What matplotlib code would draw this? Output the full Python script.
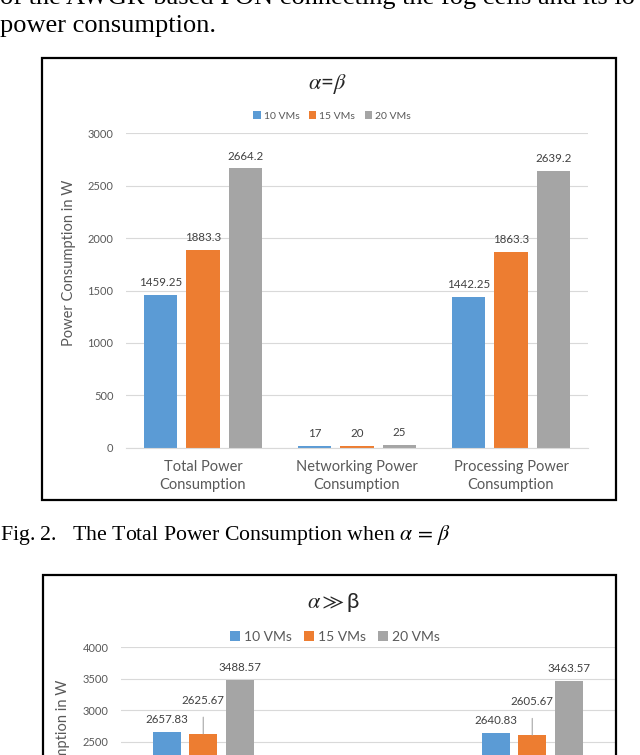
import numpy as np
import matplotlib.pyplot as plt
from matplotlib.patches import Rectangle

plt.rcParams['font.family'] = ['Lato', 'DejaVu Sans']
plt.rcParams['mathtext.fontset'] = 'stix'

# data
categories = ['Total Power\nConsumption', 'Networking Power\nConsumption',
              'Processing Power\nConsumption']
series = ['10 VMs', '15 VMs', '20 VMs']
colors = ['#5B9BD5', '#ED7D31', '#A5A5A5']

# alpha = beta
eq_10 = [1459.25, 17, 1442.25]
eq_15 = [1883.3, 20, 1863.3]
eq_20 = [2664.2, 25, 2639.2]
eq_labels = [['1459.25', '17', '1442.25'],
             ['1883.3', '20', '1863.3'],
             ['2664.2', '25', '2639.2']]

# alpha >> beta
gg_10 = [2657.83, 17, 2640.83]
gg_15 = [2625.67, 20, 2605.67]
gg_20 = [3488.57, 25, 3463.57]

W, H = 640, 755
fig = plt.figure(figsize=(W / 100, H / 100), dpi=100)


def fx(x):
    return x / W


def fy(y):
    return 1 - y / H


def px_box(x0, y0, x1, y1):
    return [fx(x0), fy(y1), (x1 - x0) / W, (y1 - y0) / H]


def style_axes(ax, ymax, step):
    ax.set_xlim(-0.5, 2.5)
    ax.set_ylim(0, ymax)
    ax.set_yticks(np.arange(0, ymax + 1, step))
    ax.yaxis.grid(True, color='#D9D9D9', lw=0.8)
    ax.set_axisbelow(True)
    for s in ['top', 'right', 'left']:
        ax.spines[s].set_visible(False)
    ax.spines['bottom'].set_color('#D9D9D9')
    ax.tick_params(length=0, labelsize=8, labelcolor='#595959', pad=9)
    ax.set_xticks(np.arange(3))
    ax.set_xticklabels(categories, fontsize=10.5, color='#595959', linespacing=1.3)
    ax.tick_params(axis='x', pad=9)


# page text
serif = 'Liberation Serif'
fig.text(0, fy(4), 'of the AWGR-based PON connecting the fog cells and its lo',
         family=serif, fontsize=19, va='baseline')
fig.text(0, fy(32), 'power consumption.', family=serif, fontsize=19, va='baseline')
fig.text(0, fy(540), r'Fig. 2.   The Total Power Consumption when $\alpha\,=\,\beta$',
         family=serif, fontsize=15.7, va='baseline')

# frames
fig.add_artist(Rectangle((fx(42), fy(500)), (616 - 42) / W, (500 - 58) / H,
                         transform=fig.transFigure, fill=False, ec='black', lw=1.6))
fig.add_artist(Rectangle((fx(43), fy(900)), (616 - 43) / W, (900 - 575) / H,
                         transform=fig.transFigure, fill=False, ec='black', lw=1.6))

# chart 1: alpha = beta
ax1 = fig.add_axes(px_box(126, 133.3, 588, 447.7))
style_axes(ax1, 3000, 500)
x = np.arange(3)
bw, off = 0.22, 0.276
for i, vals in enumerate([eq_10, eq_15, eq_20]):
    bars = ax1.bar(x + (i - 1) * off, vals, bw, color=colors[i], label=series[i])
    ax1.bar_label(bars, labels=eq_labels[i], padding=5, fontsize=8.3, color='#404040')
ax1.legend(loc='center', bbox_to_anchor=(fx(332), fy(116)), bbox_transform=fig.transFigure,
           ncol=3, frameon=False, fontsize=7.5, handlelength=0.7, handleheight=0.7,
           handletextpad=0.3, columnspacing=0.9, labelcolor='#595959')
fig.text(fx(327), fy(84), r'$\alpha$=$\beta$', fontsize=16, ha='center', va='center',
         color='#262626')
fig.text(fx(69), fy(263), 'Power Consumption in W', rotation=90, ha='center',
         va='center', fontsize=10.5, color='#595959')

# chart 2: alpha >> beta
ax2 = fig.add_axes(px_box(121, 647.3, 614.5, 899.3))
style_axes(ax2, 4000, 500)
bw2, off2 = 0.17, 0.222
for i, vals in enumerate([gg_10, gg_15, gg_20]):
    xs = x + (i - 1) * off2
    ax2.bar(xs, vals, bw2, color=colors[i], label=series[i])
    for xv, v in zip(xs, vals):
        lab = f'{v:.2f}' if v > 100 else f'{v:g}'
        if i == 1:
            ax2.annotate(lab, (xv, v), xytext=(0, 24), textcoords='offset points',
                         ha='center', va='center', fontsize=8.3, color='#404040',
                         arrowprops=dict(arrowstyle='-', color='#A6A6A6', lw=0.8,
                                         shrinkA=6, shrinkB=0))
        else:
            ax2.annotate(lab, (xv, v), xytext=(0, 9), textcoords='offset points',
                         ha='center', va='center', fontsize=8.3, color='#404040')
ax2.legend(loc='center', bbox_to_anchor=(fx(335), fy(637)), bbox_transform=fig.transFigure,
           ncol=3, frameon=False, fontsize=10, handlelength=0.7, handleheight=0.7,
           handletextpad=0.3, columnspacing=0.9, labelcolor='#595959')
fig.text(fx(333), fy(602), r'$\alpha\gg$' + 'β', fontsize=16, ha='center', va='center',
         color='#262626')
fig.text(fx(63), fy(680), 'Power Consumption in W', rotation=90, ha='center',
         va='top', fontsize=10.5, color='#595959')

fig.savefig('out.png', dpi=100)
